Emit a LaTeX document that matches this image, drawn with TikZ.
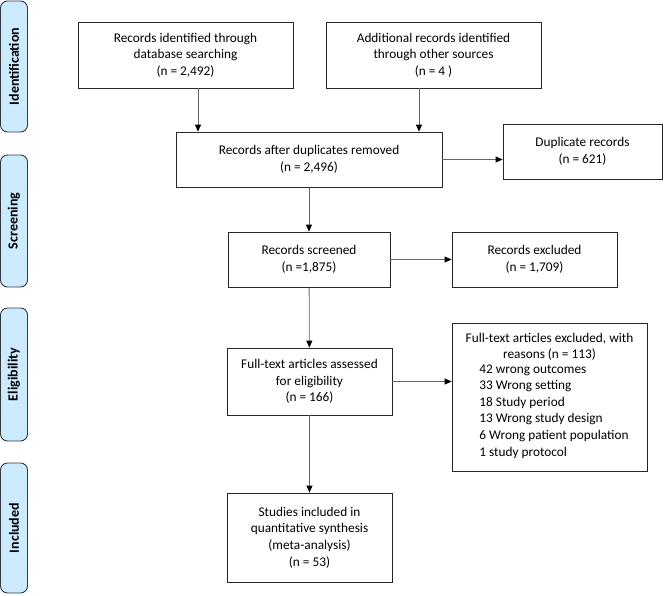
\documentclass[tikz,border=0pt]{standalone}
\usepackage{fontspec}
\setmainfont{Carlito}
\usetikzlibrary{arrows.meta,positioning,calc}
\definecolor{stagefill}{HTML}{CDEBFF}
\definecolor{stageline}{HTML}{33383F}
\tikzset{
  box/.style={draw=black!85, line width=0.8pt, align=center, inner sep=2pt,
    font=\fontsize{13.3}{16.6}\selectfont},
  stage/.style={draw=stageline, fill=stagefill, line width=0.9pt,
    rounded corners=7pt, rotate=90, minimum height=27pt,
    font=\fontsize{14}{16}\selectfont\bfseries},
  flow/.style={-{Triangle[length=7pt,width=6pt,color=black,fill=black]},
    line width=0.8pt, draw=black!60}
}

\begin{document}
\begin{tikzpicture}[x=1pt,y=-1pt]
        \useasboundingbox (0,0) rectangle (669,595);

        % stages
        \node[stage, minimum width=131pt] (sid) at (14, 66.5) {Identification};
        \node[stage, minimum width=132pt] (ssc) at (14, 221) {Screening};
        \node[stage, minimum width=133pt] (sel) at (14, 374.5) {Eligibility};
        \node[stage, minimum width=130pt] (sin) at (14, 528) {Included};

        % boxes
        \node[box, minimum width=215pt, minimum height=66pt] (db) at (185.5, 55)
            {Records identified through\\database searching\\(n = 2,492)};
        \node[box, minimum width=215pt, minimum height=66pt] (other) at (433.5, 55)
            {Additional records identified\\through other sources\\(n = 4 )};
        \node[box, minimum width=266pt, minimum height=55pt] (dedup) at (309, 159.5)
            {Records after duplicates removed\\(n = 2,496)};
        \node[box, minimum width=159pt, minimum height=55pt] (dup) at (582.5, 151.5)
            {Duplicate records\\(n = 621)};
        \node[box, minimum width=162pt, minimum height=55pt] (screen) at (309, 259.5)
            {Records screened\\(n =1,875)};
        \node[box, minimum width=165pt, minimum height=55pt] (excl) at (534.5, 259.5)
            {Records excluded\\(n = 1,709)};
        \node[box, minimum width=165pt, minimum height=67pt] (full) at (309.5, 381.5)
            {Full-text articles assessed\\for eligibility\\(n = 166)};
        \node[box, minimum width=195pt, minimum height=148pt] (fexcl) at (549.5, 397)
            {Full-text articles excluded, with\\reasons (n = 113)\\
             \begin{tabular}{@{\hspace{9pt}}l@{}}
             42 wrong outcomes\\
             33 Wrong setting\\
             18 Study period\\
             13 Wrong study design\\
             6 Wrong patient population\\
             1 study protocol
             \end{tabular}};
        \node[box, minimum width=165pt, minimum height=89pt] (incl) at (309.5, 537.5)
            {Studies included in\\quantitative synthesis\\(meta-analysis)\\(n = 53)};

        % arrows
        \coordinate (a1) at ($(db.south)+(12.5,0)$);
        \coordinate (a2) at ($(other.south)+(-14.5,0)$);
        \draw[flow] (a1) -- (a1 |- dedup.north);
        \draw[flow] (a2) -- (a2 |- dedup.north);
        \draw[flow] (dedup.east) -- (dedup.east -| dup.west);
        \draw[flow] (dedup) -- (screen);
        \draw[flow] (screen) -- (excl);
        \draw[flow] (screen) -- (full);
        \draw[flow] (full.east) -- (full.east -| fexcl.west);
        \draw[flow] (full) -- (incl);
\end{tikzpicture}
\end{document}
